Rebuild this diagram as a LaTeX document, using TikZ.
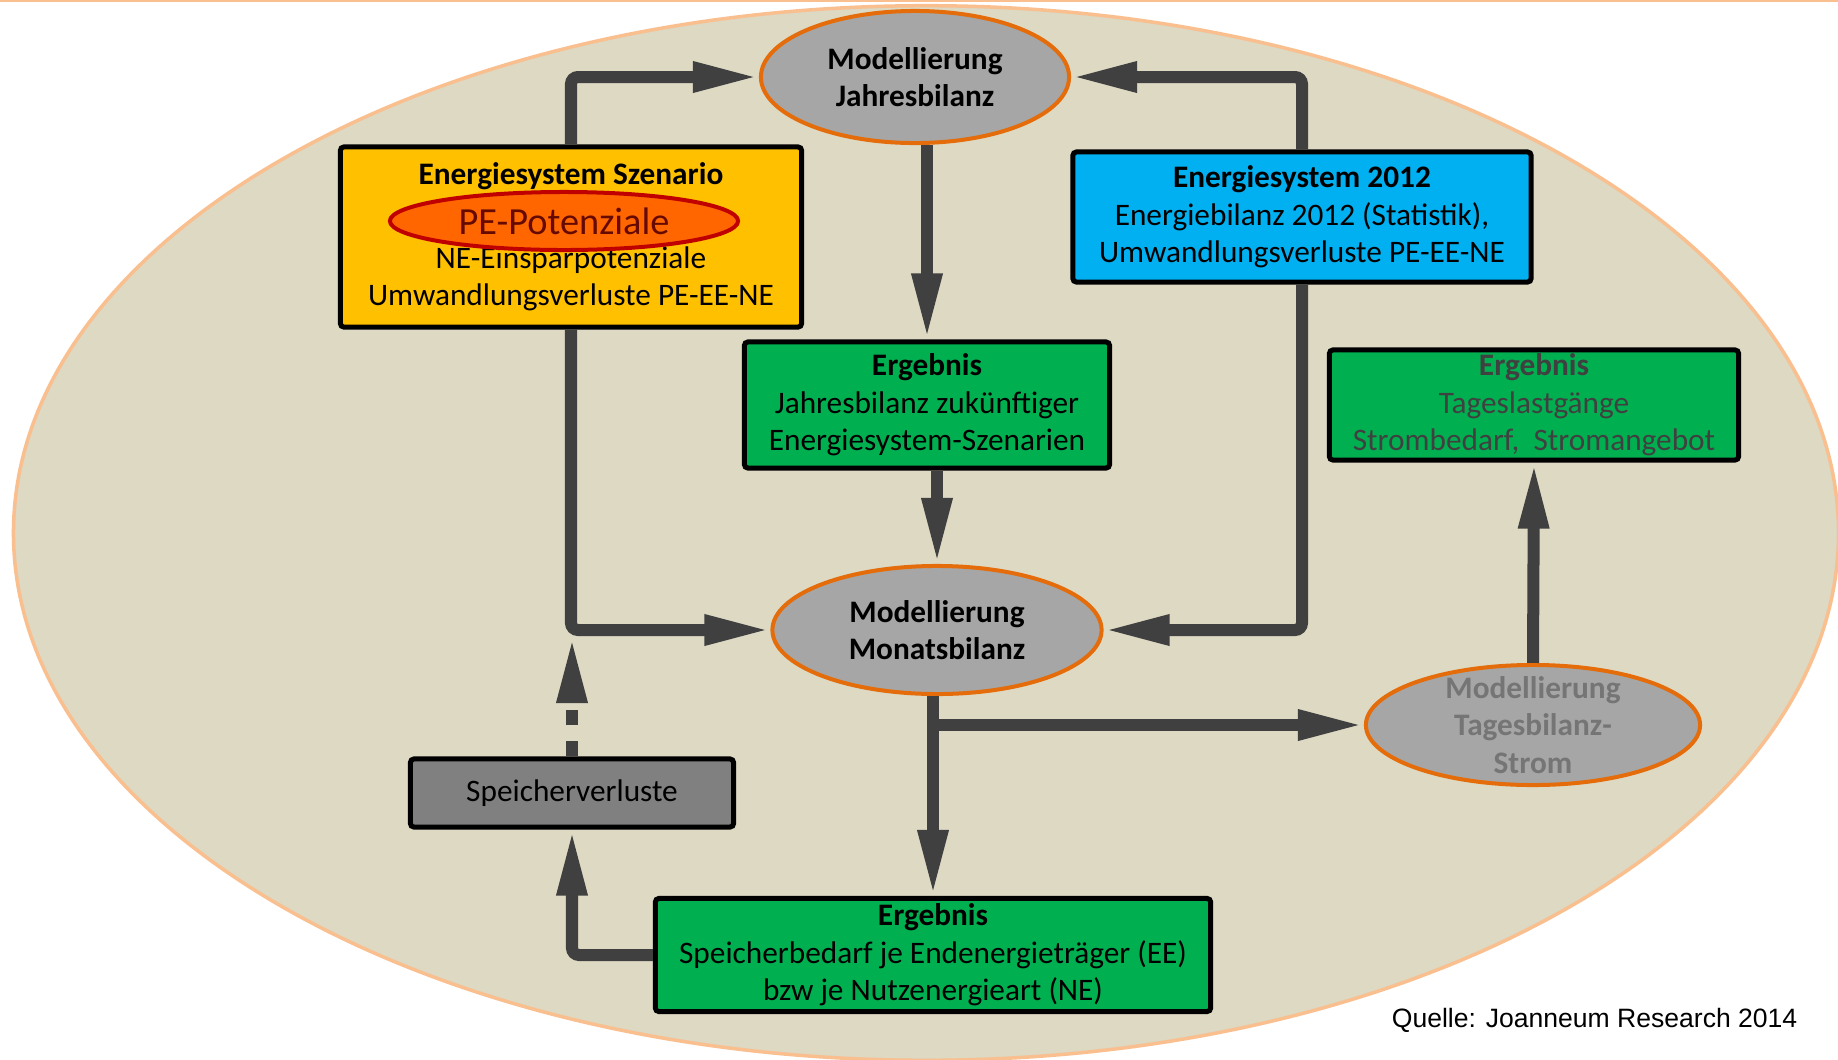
\documentclass[tikz,border=0pt]{standalone}
\usepackage{fontspec}
\setmainfont{Carlito}
\newfontfamily\quellefont{Liberation Sans}
\usetikzlibrary{shapes.geometric,arrows.meta}

\definecolor{tan}{HTML}{DDD9C3}
\definecolor{tanline}{HTML}{F9BF8F}
\definecolor{modgrey}{HTML}{A6A6A6}
\definecolor{modline}{HTML}{E46C0A}
\definecolor{szengelb}{HTML}{FFC000}
\definecolor{sysblau}{HTML}{00B0F0}
\definecolor{erggruen}{HTML}{00B050}
\definecolor{speichgrau}{HTML}{808080}
\definecolor{tagtext}{HTML}{757575}
\definecolor{pefill}{HTML}{FF6600}
\definecolor{peline}{HTML}{C00000}
\definecolor{petext}{HTML}{660A00}
\definecolor{pfeil}{HTML}{404040}

\begin{document}
\begin{tikzpicture}[
    x=0.01cm, y=-0.01cm,
    txt/.style={font=\fontsize{8.9}{10.7}\selectfont, align=center},
    box/.style={txt, draw=black, line width=0.05cm, rounded corners=1pt, inner sep=0pt},
    modell/.style={ellipse, draw=modline, line width=0.04cm, fill=modgrey, inner sep=0pt, align=center, font=\fontsize{8.9}{10.7}\selectfont\bfseries},
    modelltxt/.style={align=center, font=\fontsize{8.9}{10.7}\selectfont\bfseries},
    pebubble/.style={ellipse, draw=peline, line width=0.04cm, fill=pefill, inner sep=0pt},
    flow/.style={draw=pfeil, line width=0.12cm, rounded corners=2pt, -{Triangle[length=0.66cm, width=0.28cm]}}
  ]
  % background
  \useasboundingbox (0,0) rectangle (1838,1060);
  \fill [white] (0,0) rectangle (1838,1060);
  \draw [tanline, line width=0.02cm] (0,1) -- (1838,1);
  \draw [tanline, line width=0.035cm, fill=tan] (926,533) ellipse [x radius=9.12cm, y radius=5.27cm];

  \node (jahr) at (915,77) [modell, minimum width=3.08cm, minimum height=1.32cm] {Modellierung\\Jahresbilanz};
  \node (szen) at (571,237) [box, fill=szengelb, minimum width=4.61cm, minimum height=1.80cm]
    {\textbf{Energiesystem Szenario}\\[13pt]NE-Einsparpotenziale\\Umwandlungsverluste PE-EE-NE};
  \node (pe) at (564,221) [pebubble, minimum width=3.48cm, minimum height=0.58cm] {};
  \node (petxt) at (pe.center) [font=\fontsize{10.9}{13}\selectfont, text=petext] {PE-Potenziale};
  \node (es12) at (1302,217) [box, fill=sysblau, minimum width=4.58cm, minimum height=1.30cm]
    {\textbf{Energiesystem 2012}\\Energiebilanz 2012 (Statistik),\\Umwandlungsverluste PE-EE-NE};
  \node (erg1) at (927,405) [box, fill=erggruen, minimum width=3.65cm, minimum height=1.26cm]
    {\textbf{Ergebnis}\\Jahresbilanz zukünftiger\\Energiesystem-Szenarien};
  \node (erg2) at (1534,405) [box, fill=erggruen, text=pfeil, minimum width=4.09cm, minimum height=1.10cm]
    {\textbf{Ergebnis}\\Tageslastgänge\\Strombedarf, \ Stromangebot};
  \node (mon) at (937,630) [modell, minimum width=3.29cm, minimum height=1.28cm] {Modellierung\\Monatsbilanz};
  \node (tag) at (1533,725) [modell, minimum width=3.34cm, minimum height=1.20cm] {};
  \node (tagtxt) at (tag.center) [modelltxt, text=tagtext] {Modellierung\\Tagesbilanz-\\Strom};
  \node (speich) at (572,793) [box, fill=speichgrau, minimum width=3.23cm, minimum height=0.68cm] {Speicherverluste};
  \node (erg3) at (933,955) [box, fill=erggruen, minimum width=5.55cm, minimum height=1.13cm]
    {\textbf{Ergebnis}\\Speicherbedarf je Endenergieträger (EE)\\bzw je Nutzenergieart (NE)};
  \node (quelle) at (1798,1027) [anchor=base east, inner sep=0pt, font=\quellefont\fontsize{7.55}{9}\selectfont] {Quelle: Joanneum Research 2014};

  \coordinate (split) at (erg3.north |- tag.west);
  \coordinate (merge) at (speich.north |- mon.west);

  \draw [flow] (szen.north) |- (jahr.west);
  \draw [flow] (es12.north) |- (jahr.east);
  \draw [flow] (jahr.south -| erg1.north) -- (erg1.north);
  \draw [flow] (erg1.south -| mon.north) -- (mon.north);
  \draw [flow] (szen.south) |- (mon.west);
  \draw [flow] (es12.south) |- (mon.east);
  \draw [flow] (mon.south -| erg3.north) -- (erg3.north);
  \draw [flow] (split) -- (tag.west);
  \draw [flow] (tag.north) -- (erg2.south);
  \draw [flow] (erg3.west) -| (speich.south);
  \draw [flow, dash pattern=on 0.15cm off 0.16cm, shorten >=0.07cm] (speich.north) -- (merge);
\end{tikzpicture}
\end{document}
